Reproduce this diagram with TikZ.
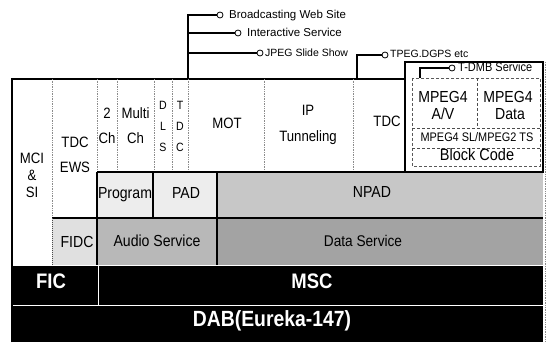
\documentclass[tikz,border=0pt]{standalone}
\usepackage{fontspec}
\setmainfont{Liberation Sans}
\newfontfamily\nf[FakeStretch=0.88]{Liberation Sans}
\begin{document}
\begin{tikzpicture}[x=1pt,y=-1pt,
  txt/.style={inner sep=0pt, text height=0.72em, text depth=0pt, font=\nf\fontsize{15}{17}\selectfont},
  sml/.style={txt, font=\nf\fontsize{12}{14}\selectfont},
  ann/.style={inner sep=0pt, anchor=west, text height=0.72em, text depth=0pt, font=\fontsize{11.5}{13}\selectfont},
  port/.style={circle, draw, fill=white, minimum size=6pt, inner sep=0pt, line width=0.8pt},
  link/.style={line width=1.3pt},
  divider/.style={black!45, densely dotted, line width=0.7pt},
  rule/.style={line width=1.3pt},
  wt/.style={txt, white, font=\nf\bfseries\fontsize{21}{23}\selectfont}]
\useasboundingbox (0,0) rectangle (551,347);
% ---- fills
\fill[black!7]  (97,172) rectangle (217,218);
\fill[black!22] (217,172) rectangle (543,218);
\fill[black!12] (52,218) rectangle (97,265);
\fill[black!28] (97,218) rectangle (217,265);
\fill[black!36] (217,218) rectangle (543,265);
\fill[black] (12,265) rectangle (543,342);
\draw[white, line width=0.7pt] (12,265) -- (543,265) (12,305) -- (543,305) (98,265) -- (98,305);
% ---- frame and rules
\draw[rule] (12,342) -- (12,79) -- (405,79);
\draw[divider] (545,62) -- (545,342);
\draw[divider] (52,79) -- (52,218);
\foreach \x in {97,117,154,172,188,264,353} \draw[divider] (\x,79) -- (\x,172);
\draw[rule] (97,172) -- (543,172);
\draw[rule] (52,218) -- (543,218);
\draw[rule] (97,172) -- (97,265);
\draw[rule] (153,172) -- (153,218);
\draw[rule] (217,172) -- (217,265);
\draw[black!70, densely dotted, line width=1pt] (52,218) -- (52,265);
% ---- MPEG4 box
\draw[line width=1.2pt, fill=white] (405,62) rectangle (543,172);
\draw[black!65, densely dashed, line width=0.8pt] (412,78) rectangle (540,166);
\draw[black!70, densely dashed, line width=0.9pt] (412,128) -- (540,128) (412,148) -- (540,148) (477,78) -- (477,128);
% ---- table texts
\node[txt] (mci) at (32,160) {MCI};
\node[txt] (amp) at (32,177) {\&};
\node[txt] (si) at (32,194) {SI};
\node[txt] (tdca) at (75,144) {TDC};
\node[txt] (ews) at (75,169) {EWS};
\node[txt] (two) at (107,115) {2};
\node[txt] (cha) at (107,140) {Ch};
\node[txt] (multi) at (135.5,115) {Multi};
\node[txt] (chb) at (135.5,140) {Ch};
\node[sml] (dlsd) at (163,106) {D};
\node[sml] (dlsl) at (163,127) {L};
\node[sml] (dlss) at (163,148) {S};
\node[sml] (tdct) at (180,106) {T};
\node[sml] (tdcd) at (180,127) {D};
\node[sml] (tdcc) at (180,148) {C};
\node[txt] (mot) at (227,125) {MOT};
\node[txt] (ip) at (308,112) {IP};
\node[txt] (tun) at (308,138) {Tunneling};
\node[txt] (tdcb) at (387,123) {TDC};
\node[txt, font=\nf\fontsize{16}{18}\selectfont] (mpa) at (443,99) {MPEG4};
\node[txt, font=\nf\fontsize{16}{18}\selectfont] (av) at (443,116) {A/V};
\node[txt, font=\nf\fontsize{16}{18}\selectfont] (mpb) at (508,99) {MPEG4};
\node[txt, font=\nf\fontsize{16}{18}\selectfont] (dat) at (510,116) {Data};
\node[txt, font=\nf\fontsize{12.4}{14}\selectfont] (sl) at (477,138) {MPEG4 SL/MPEG2 TS};
\node[txt, font=\nf\fontsize{16.5}{18}\selectfont] (blk) at (477,157) {Block Code};
\node[txt, font=\nf\fontsize{16}{18}\selectfont] (prog) at (125,195) {Program};
\node[txt, font=\nf\fontsize{16}{18}\selectfont] (pad) at (186,195) {PAD};
\node[txt, font=\nf\fontsize{16}{18}\selectfont] (npad) at (372,194) {NPAD};
\node[txt, font=\nf\fontsize{16}{18}\selectfont] (fidc) at (77,244) {FIDC};
\node[txt, font=\nf\fontsize{16}{18}\selectfont] (audio) at (157,243) {Audio Service};
\node[txt, font=\nf\fontsize{15.5}{18}\selectfont] (data) at (363,243) {Data Service};
\node[wt] (fic) at (51,285) {FIC};
\node[wt] (msc) at (312,285) {MSC};
\node[wt, font=\nf\bfseries\fontsize{22}{24}\selectfont] (dab) at (272,323) {DAB(Eureka-147)};
% ---- annotations
\coordinate (trunk) at (188,79);
\coordinate (j2) at (188,33);
\coordinate (j3) at (188,53);
\node[port] (p1) at (220,15) {};
\node[port] (p2) at (238,33) {};
\node[port] (p3) at (260,53) {};
\node[ann] (l1) at (229,15) {Broadcasting Web Site};
\node[ann] (l2) at (247,33) {Interactive Service};
\node[ann, font=\fontsize{10.5}{12}\selectfont] (l3) at (265,53) {JPEG Slide Show};
\draw[link] (trunk) |- (p1);
\draw[link] (j2) -- (p2);
\draw[link] (j3) -- (p3);
\coordinate (tp) at (357,79);
\node[port] (p4) at (385,55) {};
\node[ann, font=\fontsize{10.5}{12}\selectfont] (l4) at (390,54) {TPEG.DGPS etc};
\draw[link] (tp) |- (p4);
\coordinate (td) at (420,78);
\node[port] (p5) at (452,68) {};
\node[ann, font=\nf\fontsize{12.5}{14}\selectfont] (l5) at (458,68) {T-DMB Service};
\draw[link] (td) |- (p5);
\end{tikzpicture}
\end{document}
